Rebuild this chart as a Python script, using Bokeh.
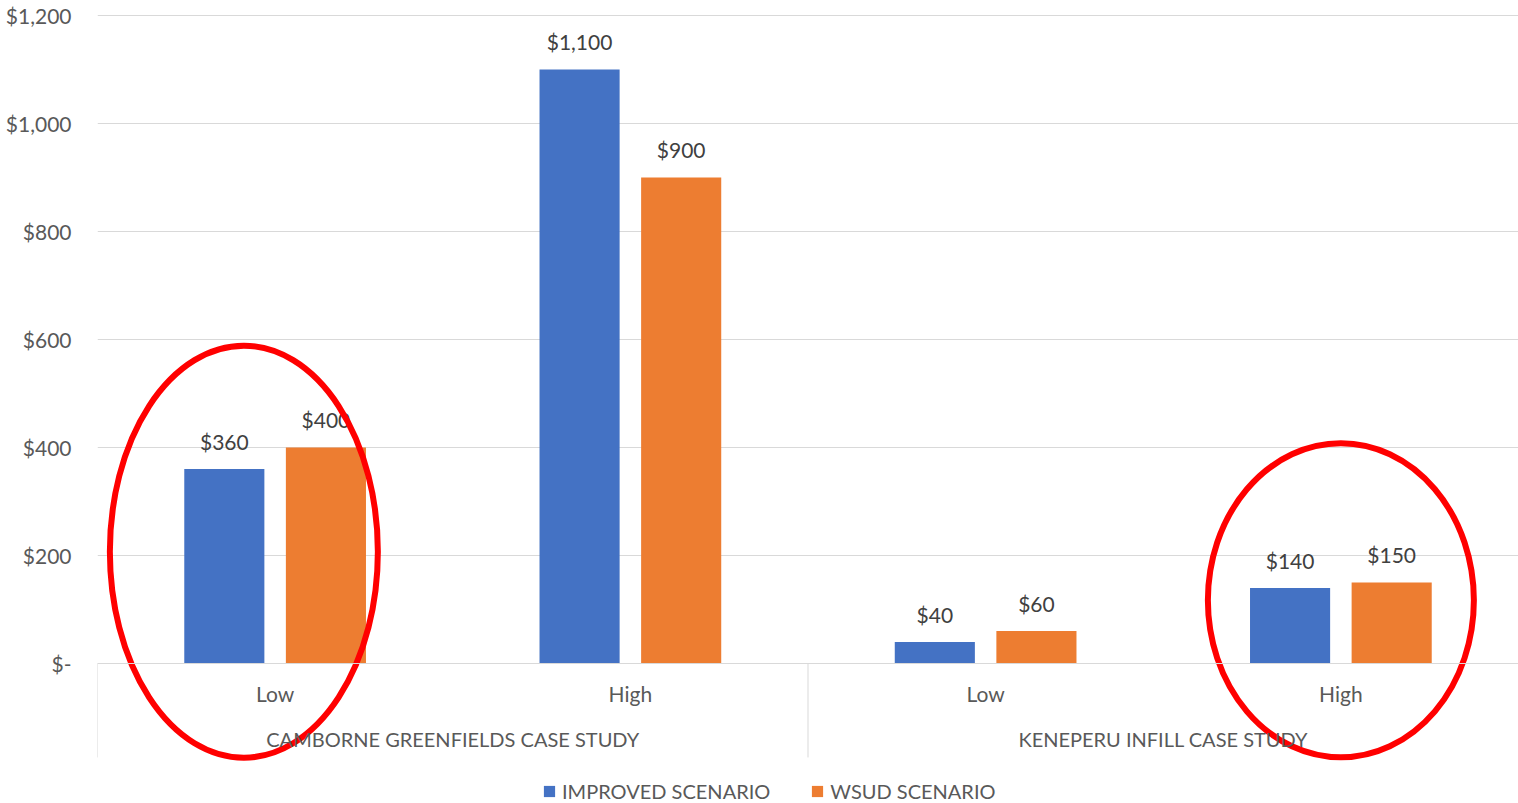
from bokeh.plotting import figure
from bokeh.models import (FactorRange, Range1d, FixedTicker, CustomJSTickFormatter,
                          Legend, LegendItem, ColumnDataSource)
from bokeh.transform import dodge
from bokeh.core.properties import value
from bokeh.embed import file_html
from bokeh.resources import INLINE

# ---- data ----
groups = ["CAMBORNE GREENFIELDS CASE STUDY", "KENEPERU INFILL CASE STUDY"]
levels = ["Low", "High"]
improved = [360, 1100, 40, 140]
wsud = [400, 900, 60, 150]
series_names = ["IMPROVED SCENARIO", "WSUD SCENARIO"]
y_ticks = [0, 200, 400, 600, 800, 1000, 1200]

# red highlight rings (annotations): factor, offset, centre value, size in px
ring_factors = [(groups[0], "Low"), (groups[1], "High")]
ring_dx = [-0.088, 0.0]
ring_y = [207, 117]
ring_w = [268, 266]
ring_h = [412, 314]

FONT = "Lato"
TXT = "#595959"
BLUE = "#4472C4"
ORANGE = "#ED7D31"
GRID = "#D9D9D9"

factors = [(g, l) for g in groups for l in levels]

def money(v):
    return "${:,}".format(v)

src = ColumnDataSource(dict(
    x=factors, improved=improved, wsud=wsud,
    imp_lab=[money(v) for v in improved],
    wsud_lab=[money(v) for v in wsud],
))

x_range = FactorRange(*factors, factor_padding=0, group_padding=0, range_padding=0)

p = figure(x_range=x_range, y_range=Range1d(-259.3, 1218.5),
           width=1518, height=803, output_backend="svg", toolbar_location=None,
           min_border_left=97, min_border_right=0, min_border_top=5, min_border_bottom=0)
p.outline_line_color = None
p.background_fill_color = "white"
p.border_fill_color = "white"

OFF = 0.143
BW = 0.2255
r1 = p.vbar(x=dodge("x", -OFF, range=p.x_range), top="improved", width=BW,
            source=src, fill_color=BLUE, line_color=None)
r2 = p.vbar(x=dodge("x", OFF, range=p.x_range), top="wsud", width=BW,
            source=src, fill_color=ORANGE, line_color=None)

for key, lab, off in (("improved", "imp_lab", -OFF), ("wsud", "wsud_lab", OFF)):
    p.text(x=dodge("x", off, range=p.x_range), y=key, text=lab, source=src,
           text_align="center", text_baseline="bottom", y_offset=-15,
           text_font=value(FONT), text_font_size="21px", text_color="#404040")

# category separators of the multi-level axis
sep_x = [0, len(levels), len(factors)]
p.segment(x0=sep_x, y0=[0] * 3, x1=sep_x, y1=[-174] * 3, line_color=GRID, line_width=1)

# y axis
p.yaxis.ticker = FixedTicker(ticks=y_ticks)
p.yaxis.formatter = CustomJSTickFormatter(
    code="return tick == 0 ? '$-' : '$' + tick.toLocaleString('en-US');")
p.yaxis.axis_line_color = None
p.yaxis.major_tick_line_color = None
p.yaxis.minor_tick_line_color = None
p.yaxis.major_tick_out = 0
p.yaxis.major_label_standoff = 26
p.yaxis.major_label_text_font = FONT
p.yaxis.major_label_text_font_size = "21px"
p.yaxis.major_label_text_color = TXT
p.ygrid.grid_line_color = GRID
p.xgrid.grid_line_color = None

# x axis drawn at zero
p.xaxis.fixed_location = 0
p.xaxis.axis_line_color = GRID
p.xaxis.major_tick_line_color = None
p.xaxis.minor_tick_line_color = None
p.xaxis.major_tick_out = 0
p.xaxis.major_label_standoff = 18
p.xaxis.major_label_text_font = FONT
p.xaxis.major_label_text_font_size = "21px"
p.xaxis.major_label_text_color = TXT
p.xaxis.group_text_font = FONT
p.xaxis.group_text_font_size = "20px"
p.xaxis.group_text_color = TXT
p.xaxis.group_text_font_style = "normal"
p.xaxis.separator_line_color = None

legend = Legend(items=[LegendItem(label=series_names[0], renderers=[r1]),
                       LegendItem(label=series_names[1], renderers=[r2])],
                orientation="horizontal", location=(445, 0),
                border_line_color=None, background_fill_alpha=0,
                label_text_font=FONT, label_text_font_size="20px", label_text_color=TXT,
                glyph_width=14, glyph_height=14, label_standoff=6, spacing=40,
                padding=0, margin=0)
p.add_layout(legend, "center")

# highlight rings on top
for f, dx, yv, w, h in zip(ring_factors, ring_dx, ring_y, ring_w, ring_h):
    rs = ColumnDataSource(dict(x=[f], y=[yv], w=[w], h=[h]))
    p.ellipse(x=dodge("x", dx, range=p.x_range), y="y", width="w", height="h",
              width_units="screen", height_units="screen", source=rs,
              fill_color=None, line_color="#FF0000", line_width=6)

open("out.html", "w").write(file_html(p, INLINE))
